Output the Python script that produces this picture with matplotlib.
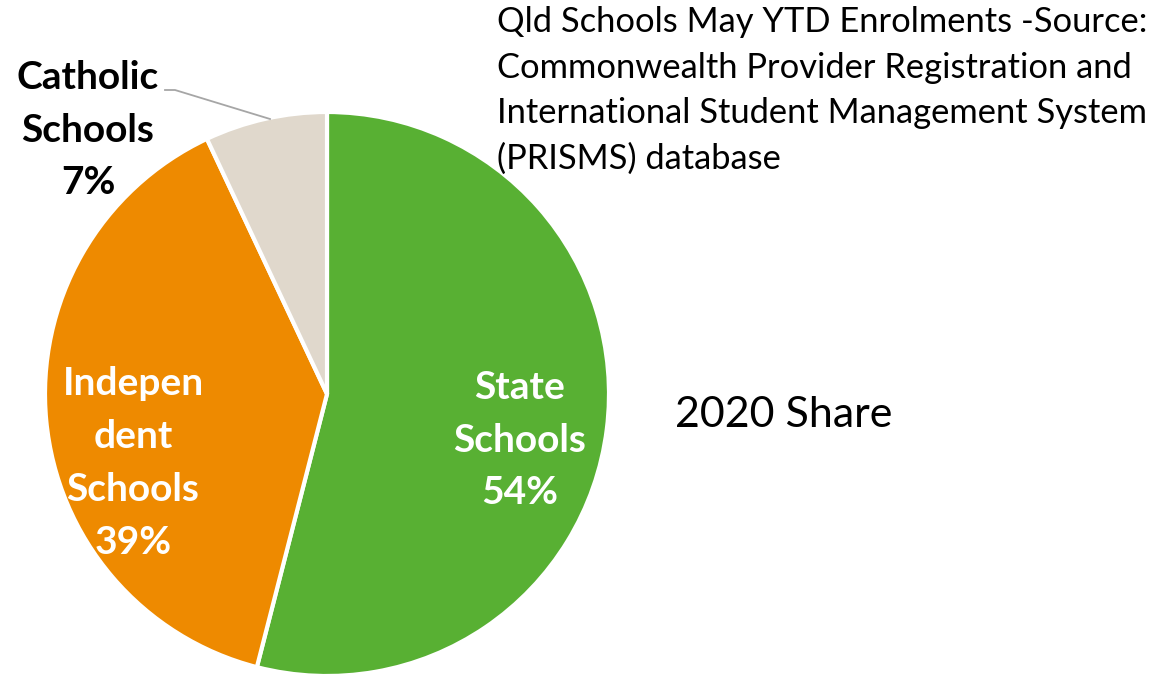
import matplotlib
matplotlib.use("Agg")
import matplotlib.pyplot as plt

categories = ["State\nSchools", "Indepen\ndent\nSchools", "Catholic\nSchools"]
shares = [54, 39, 7]
colors = ["#58B033", "#EE8A00", "#E0D8CC"]
title_text = ("Qld Schools May YTD Enrolments -Source:\nCommonwealth Provider Registration and\n"
              "International Student Management System\n(PRISMS) database")
side_text = "2020 Share"

plt.rcParams['font.family'] = ['Lato', 'DejaVu Sans']
W, H = 1156, 675
fig = plt.figure(figsize=(W / 100, H / 100), dpi=100)
cx, cy, r = 327, 394, 282
ax = fig.add_axes([(cx - r) / W, (H - cy - r) / H, 2 * r / W, 2 * r / H])
wedges, _ = ax.pie(shares, colors=colors, startangle=90, counterclock=False, radius=1,
                   wedgeprops=dict(edgecolor="white", linewidth=3))
ax.set_xlim(-1, 1)
ax.set_ylim(-1, 1)
ax.set_aspect("equal")
ax.axis("off")

px = lambda x: (x - cx) / r
py = lambda y: (cy - y) / r

lbl = [f"{c}\n{s}%" for c, s in zip(categories, shares)]
kw = dict(fontsize=28, fontweight="bold", ha="center", va="center", linespacing=1.62)
ax.text(px(520), py(440), lbl[0], color="white", **kw)
ax.text(px(133), py(463), lbl[1], color="white", **kw)
ax.text(px(88), py(130), lbl[2], color="black", clip_on=False, **kw)
# leader line
ax.plot([px(165), px(175), px(270)], [py(90), py(90), py(119)], color="#A6A6A6",
        lw=1.3, clip_on=False)

fig.text(497 / W, 1 - 6 / H, title_text, fontsize=24.8, ha="left", va="top",
         linespacing=1.52)
fig.text(675 / W, 1 - 415 / H, side_text, fontsize=31, ha="left", va="center")

fig.savefig("out.png", dpi=100)
